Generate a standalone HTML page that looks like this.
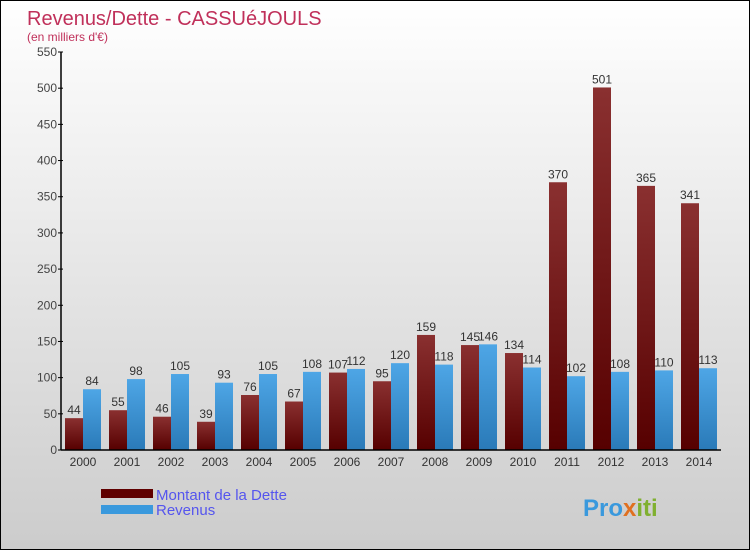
<!DOCTYPE html>
<html><head><meta charset="utf-8"><style>
body{margin:0;width:750px;height:550px;overflow:hidden;font-family:"Liberation Sans",sans-serif}
#root{position:relative;width:748px;height:548px;border:1px solid #000;background:linear-gradient(#fff,#ccc)}
</style></head><body>
<div id="root">
<svg id="chart" width="748" height="548">
<defs>
<linearGradient id="gd" x1="0" y1="0" x2="0" y2="1"><stop offset="0" stop-color="#8a3030"/><stop offset="1" stop-color="#560000"/></linearGradient>
<linearGradient id="gr" x1="0" y1="0" x2="0" y2="1"><stop offset="0" stop-color="#4ea6e6"/><stop offset="1" stop-color="#2a7ab8"/></linearGradient>
</defs>
<text x="26" y="24" font-size="20" fill="#c0305a">Revenus/Dette - CASSUéJOULS</text>
<text x="26" y="40" font-size="12" fill="#c0305a">(en milliers d'€)</text>
<g id="bars"></g>
<g id="axes"></g>
<rect x="100" y="488" width="52" height="9" fill="#600000"/>
<text x="155" y="499" font-size="15" fill="#5555ee">Montant de la Dette</text>
<rect x="100" y="504" width="52" height="9" fill="#3a99dd"/>
<text x="155" y="514" font-size="15" fill="#5555ee">Revenus</text>
<text x="582" y="515" font-size="24" font-weight="bold" fill="#3a99dd">Pro<tspan fill="#e07020">x</tspan><tspan fill="#80b030">iti</tspan></text>
</svg>
</div>
<script>
const years=["2000","2001","2002","2003","2004","2005","2006","2007","2008","2009","2010","2011","2012","2013","2014"];
const dette=[44,55,46,39,76,67,107,95,159,145,134,370,501,365,341];
const revenus=[84,98,105,93,105,108,112,120,118,146,114,102,108,110,113];
const yTicks=[0,50,100,150,200,250,300,350,400,450,500,550];
const NS="http://www.w3.org/2000/svg";
const y0=449,pxPerUnit=398/550,x0=62,step=44,bw=18;
const yS=v=>y0-v*pxPerUnit;
const xS=i=>x0+i*step;
const bars=document.getElementById('bars'),axes=document.getElementById('axes');
function mk(tag,attrs,parent){const e=document.createElementNS(NS,tag);for(const k in attrs)e.setAttribute(k,attrs[k]);parent.appendChild(e);return e;}
years.forEach((yr,i)=>{
  const xd=xS(i)+2,xr=xd+bw;
  const r1=mk('rect',{x:xd,y:yS(dette[i]),width:bw,height:y0-yS(dette[i]),fill:'url(#gd)'},bars);
  
  
  const r2=mk('rect',{x:xr,y:yS(revenus[i]),width:bw,height:y0-yS(revenus[i]),fill:'url(#gr)'},bars);
  
  
  const t1=mk('text',{x:xd+bw/2,y:yS(dette[i])-4,'font-size':12,fill:'#333','text-anchor':'middle'},bars);
  t1.textContent=dette[i];
  
  
  const t2=mk('text',{x:xr+bw/2,y:yS(revenus[i])-4,'font-size':12,fill:'#333','text-anchor':'middle'},bars);
  t2.textContent=revenus[i];
  
  
  const tl=mk('text',{x:xr,y:y0+16,'font-size':12,fill:'#333','text-anchor':'middle'},axes);
  tl.textContent=yr;
  
  
});
const ya=mk('line',{x1:60,y1:yS(550),x2:60,y2:y0,stroke:'#000','stroke-width':1.5},axes);


const xa=mk('line',{x1:60,y1:y0,x2:720,y2:y0,stroke:'#000','stroke-width':1.5},axes);


yTicks.forEach(v=>{
  const tk=mk('line',{x1:57,y1:yS(v),x2:62,y2:yS(v),stroke:'#000'},axes);
  
  
  const t=mk('text',{x:56,y:yS(v)+4,'font-size':12,fill:'#444','text-anchor':'end'},axes);
  t.textContent=v;
  
  
});
</script>
</body></html>
